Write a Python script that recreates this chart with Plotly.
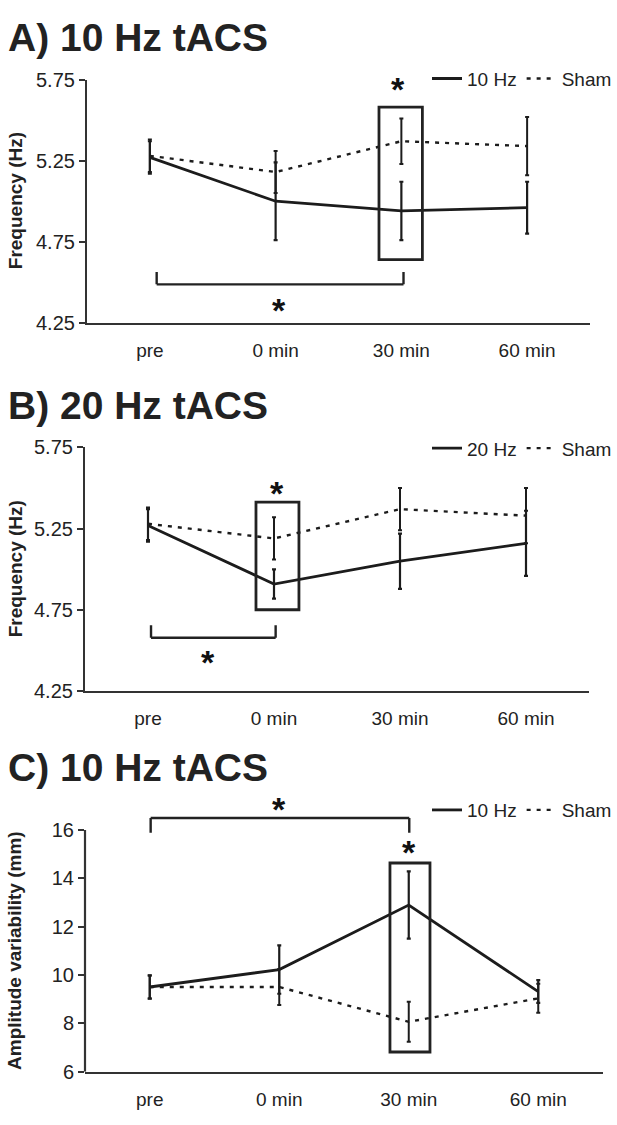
import plotly.graph_objects as go

# Time points of the measurement
times = ["pre", "0 min", "30 min", "60 min"]

# A) 10 Hz tACS – tremor frequency (Hz)
a_active = [5.27, 5.00, 4.94, 4.96]
a_active_err = [0.10, 0.24, 0.18, 0.16]
a_sham = [5.28, 5.18, 5.37, 5.34]
a_sham_err = [0.10, 0.13, 0.14, 0.18]

# B) 20 Hz tACS – tremor frequency (Hz)
b_active = [5.27, 4.91, 5.05, 5.16]
b_active_err = [0.10, 0.09, 0.17, 0.20]
b_sham = [5.28, 5.19, 5.37, 5.33]
b_sham_err = [0.10, 0.13, 0.13, 0.17]

# C) 10 Hz tACS – amplitude variability (mm)
c_active = [9.51, 10.23, 12.90, 9.32]
c_active_err = [0.48, 1.00, 1.39, 0.47]
c_sham = [9.51, 9.51, 8.07, 9.04]
c_sham_err = [0.48, 0.74, 0.83, 0.60]

W, H = 617, 1125
FONT = "Liberation Sans, Arial, Helvetica, sans-serif"
INK = "#1c1c1c"
AX = "#333333"


def px_x(p):
    return p / W


def px_y(p):
    return 1 - p / H


panels = [
    dict(key="", title="A) 10 Hz tACS", label="10 Hz", ytitle="Frequency (Hz)",
         act=a_active, act_err=a_active_err, sham=a_sham, sham_err=a_sham_err,
         xdom=[px_x(87), px_x(590)], ydom=[px_y(318), px_y(70)],
         yrange=[4.25, 5.75], ticks=[4.25, 4.75, 5.25, 5.75], axis_top=5.75,
         title_y=27, legend_y=69, legend="legend"),
    dict(key="2", title="B) 20 Hz tACS", label="20 Hz", ytitle="Frequency (Hz)",
         act=b_active, act_err=b_active_err, sham=b_sham, sham_err=b_sham_err,
         xdom=[px_x(85), px_x(589)], ydom=[px_y(694), px_y(445)],
         yrange=[4.25, 5.75], ticks=[4.25, 4.75, 5.25, 5.75], axis_top=5.75,
         title_y=402, legend_y=446, legend="legend2"),
    dict(key="3", title="C) 10 Hz tACS", label="10 Hz", ytitle="Amplitude variability (mm)",
         act=c_active, act_err=c_active_err, sham=c_sham, sham_err=c_sham_err,
         xdom=[px_x(85), px_x(603)], ydom=[px_y(1082), px_y(796)],
         yrange=[6, 17.6], ticks=[6, 8, 10, 12, 14, 16], axis_top=16,
         title_y=772, legend_y=815, legend="legend3"),
]

fig = go.Figure()
shapes = []
annotations = []

for p in panels:
    xa, ya = "x" + p["key"], "y" + p["key"]
    common = dict(x=times, mode="lines", xaxis=xa, yaxis=ya, legend=p["legend"])
    fig.add_trace(go.Scatter(
        y=p["act"], name=p["label"],
        line=dict(color=INK, width=2.8),
        error_y=dict(type="data", array=p["act_err"], color=INK, thickness=2.2, width=2),
        **common))
    fig.add_trace(go.Scatter(
        y=p["sham"], name="Sham",
        line=dict(color=INK, width=2.4, dash="4px,6px"),
        error_y=dict(type="data", array=p["sham_err"], color=INK, thickness=2, width=2),
        **common))

    axis_key = "xaxis" + p["key"]
    yaxis_key = "yaxis" + p["key"]
    fig.update_layout(**{
        axis_key: dict(domain=p["xdom"], anchor=ya, type="category",
                       categoryorder="array", categoryarray=times,
                       range=[-0.5, 3.5], showline=True, linecolor=AX, linewidth=2.2,
                       ticks="", showgrid=False, zeroline=False,
                       tickfont=dict(family=FONT, size=19, color="#222"),
                       ticklabelstandoff=9, fixedrange=True),
        yaxis_key: dict(domain=p["ydom"], anchor=xa, range=p["yrange"],
                        tickvals=p["ticks"],
                        ticktext=[("%g" % t) if p["key"] == "3" else ("%.2f" % t) for t in p["ticks"]],
                        showline=p["key"] != "3", linecolor=AX, linewidth=2.2,
                        ticks="outside", ticklen=6, tickwidth=2, tickcolor=AX,
                        showgrid=False, zeroline=False, ticklabelstandoff=0,
                        tickfont=dict(family=FONT, size=20, color="#222"),
                        fixedrange=True),
        p["legend"]: dict(orientation="h", x=1.0, xanchor="right",
                          y=px_y(p["legend_y"]), yanchor="middle",
                          font=dict(family=FONT, size=19, color="#222"),
                          bgcolor="rgba(0,0,0,0)", itemwidth=30,
                          tracegroupgap=0, itemclick=False),
    })

    # panel heading
    annotations.append(dict(text="<b>%s</b>" % p["title"], xref="paper", yref="paper",
                            x=px_x(6), y=px_y(p["title_y"]), xanchor="left", yanchor="middle",
                            showarrow=False, font=dict(family=FONT, size=39, color="#222")))
    # vertical axis title, centred on the drawn part of the axis
    ymid_px = (1 - p["ydom"][0]) * H
    ytop_px = ymid_px - (p["axis_top"] - p["yrange"][0]) / (p["yrange"][1] - p["yrange"][0]) * (ymid_px - (1 - p["ydom"][1]) * H)
    annotations.append(dict(text="<b>%s</b>" % p["ytitle"], xref="paper", yref="paper",
                            x=px_x(15), y=px_y((ymid_px + ytop_px) / 2), textangle=-90,
                            xanchor="center", yanchor="middle", showarrow=False,
                            font=dict(family=FONT, size=19, color="#222")))

# y axis line for panel C stops at the top tick (16)
shapes.append(dict(type="line", xref="paper", yref="y3", x0=px_x(85), x1=px_x(85),
                   y0=6, y1=16, line=dict(color=AX, width=2.2)))

# Significance boxes around the compared time point
sig_boxes = [
    ("x", "y", 1.822, 2.167, 4.64, 5.58),
    ("x2", "y2", 0.857, 1.198, 4.752, 5.413),
    ("x3", "y3", 1.855, 2.164, 6.82, 14.64),
]
for xr, yr, x0, x1, y0, y1 in sig_boxes:
    shapes.append(dict(type="rect", xref=xr, yref=yr, x0=x0, x1=x1, y0=y0, y1=y1,
                       line=dict(color="#222", width=2.8), fillcolor="rgba(0,0,0,0)"))

# Brackets between pre and post time points: (x0, x1, y_end, y_bar)
brackets = [
    ("x", "y", 0.054, 2.017, 4.564, 4.487),
    ("x2", "y2", 0.024, 1.013, 4.656, 4.580),
    ("x3", "y3", 0.007, 2.004, 15.89, 16.50),
]
for xr, yr, x0, x1, yend, ybar in brackets:
    seg = dict(type="line", xref=xr, yref=yr, line=dict(color="#222", width=2.4))
    shapes.append(dict(seg, x0=x0, x1=x0, y0=yend, y1=ybar))
    shapes.append(dict(seg, x0=x0, x1=x1, y0=ybar, y1=ybar))
    shapes.append(dict(seg, x0=x1, x1=x1, y0=ybar, y1=yend))

# Asterisks marking significant differences
stars = [
    ("x", "y", 1.97, 5.72), ("x", "y", 1.03, 4.362),
    ("x2", "y2", 1.02, 5.50), ("x2", "y2", 0.48, 4.46),
    ("x3", "y3", 2.00, 15.30), ("x3", "y3", 1.00, 17.10),
]
for xr, yr, x, y in stars:
    annotations.append(dict(text="<b>*</b>", xref=xr, yref=yr, x=x, y=y,
                            xanchor="center", yanchor="middle", yshift=-5,
                            showarrow=False, font=dict(family=FONT, size=34, color="#111")))

fig.update_layout(
    width=W, height=H,
    margin=dict(l=0, r=0, t=0, b=0),
    paper_bgcolor="white", plot_bgcolor="white",
    shapes=shapes, annotations=annotations,
    font=dict(family=FONT, color="#222"),
)

fig.write_html("out.html", config={"displayModeBar": False})
